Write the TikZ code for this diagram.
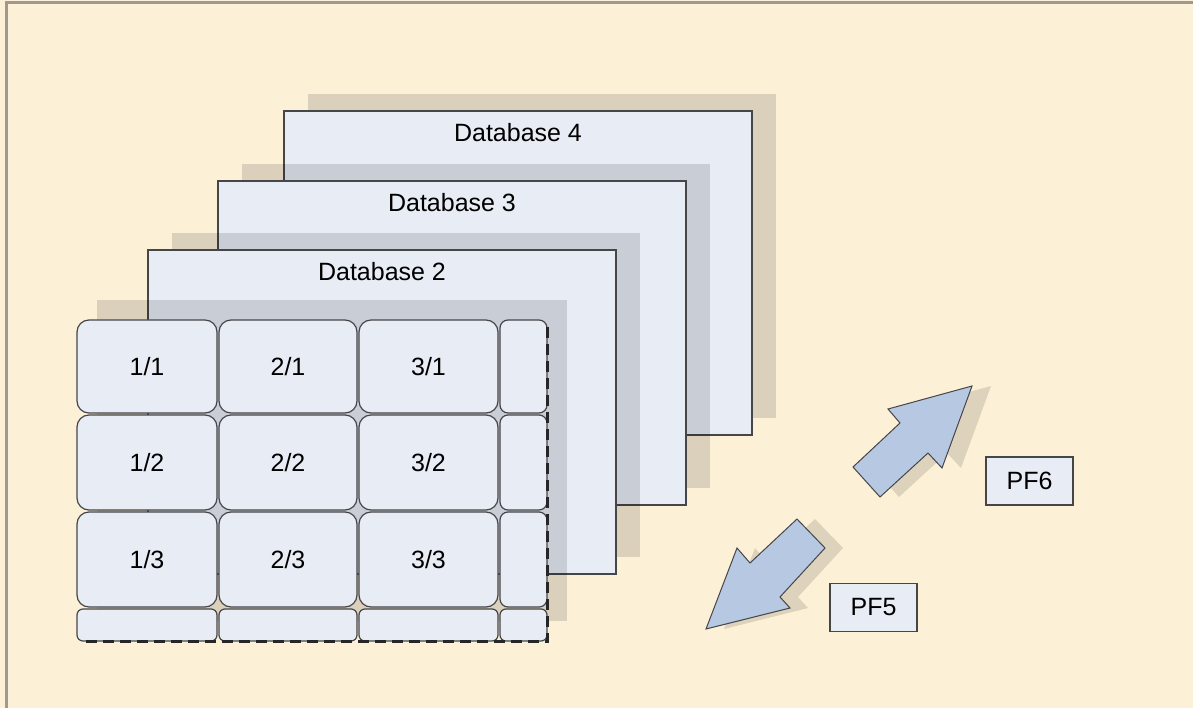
\documentclass[tikz,border=0pt]{standalone}
\usepackage{fontspec}
\setmainfont{Liberation Sans}
\usetikzlibrary{shadows}

\definecolor{paper}{RGB}{252,240,215}
\definecolor{frame}{RGB}{160,152,145}
\definecolor{sheetc}{RGB}{232,236,245}
\definecolor{linec}{RGB}{70,70,72}
\definecolor{arrowc}{RGB}{182,200,226}

\begin{document}
\begin{tikzpicture}[x=1pt, y=-1pt,
    font=\fontsize{25}{29}\selectfont,
    sheet/.style={draw=linec, line width=1.3pt, fill=sheetc, inner sep=0pt,
      minimum width=468, minimum height=324,
      drop shadow={shadow xshift=24pt, shadow yshift=17pt, fill=black, opacity=.13}},
    shadowbox/.style={fill=black, fill opacity=.13, inner sep=0pt},
    cell/.style={draw=linec, line width=1.2pt, fill=sheetc, rounded corners=12, inner sep=0pt},
    pfbox/.style={draw=linec, line width=1.2pt, fill=sheetc, inner sep=0pt,
      minimum width=87, minimum height=48},
    bigarrow/.style={draw=linec, line width=1pt, fill=arrowc},
    arrowshadow/.style={fill=black, fill opacity=.12}]

    \useasboundingbox (0,0) rectangle (1193,708);
    \fill[paper] (0,0) rectangle (1193,708);
    \draw[frame, line width=3pt] (1193,3) -- (6,3) -- (6,708);

    % stacked databases
    \node[sheet] (d4) at (518,273) {};
    \node (t4) at (518,133) {Database 4};
    \node[sheet] (d3) at (452,343) {};
    \node (t3) at (452,203) {Database 3};
    \node[sheet] (d2) at (382,412) {};
    \node (t2) at (382,272) {Database 2};

    % database 1 as a grid of cells
    \node[shadowbox, minimum width=470, minimum height=321] (gsh) at (332,460.5) {};

    \node[cell, minimum width=140, minimum height=93] (c11) at (147,366.5) {1/1};
    \node[cell, minimum width=138, minimum height=93] (c21) at (288,366.5) {2/1};
    \node[cell, minimum width=139, minimum height=93] (c31) at (428.5,366.5) {3/1};
    \node[cell, minimum width=47, minimum height=93, rounded corners=8] (c41) at (523.5,366.5) {};

    \node[cell, minimum width=140, minimum height=95] (c12) at (147,462.5) {1/2};
    \node[cell, minimum width=138, minimum height=95] (c22) at (288,462.5) {2/2};
    \node[cell, minimum width=139, minimum height=95] (c32) at (428.5,462.5) {3/2};
    \node[cell, minimum width=47, minimum height=95, rounded corners=8] (c42) at (523.5,462.5) {};

    \node[cell, minimum width=140, minimum height=95] (c13) at (147,559.5) {1/3};
    \node[cell, minimum width=138, minimum height=95] (c23) at (288,559.5) {2/3};
    \node[cell, minimum width=139, minimum height=95] (c33) at (428.5,559.5) {3/3};
    \node[cell, minimum width=47, minimum height=95, rounded corners=8] (c43) at (523.5,559.5) {};

    \node[cell, minimum width=140, minimum height=32, rounded corners=6] (c14) at (147,625) {};
    \node[cell, minimum width=138, minimum height=32, rounded corners=6] (c24) at (288,625) {};
    \node[cell, minimum width=139, minimum height=32, rounded corners=6] (c34) at (428.5,625) {};
    \node[cell, minimum width=47, minimum height=32, rounded corners=6] (c44) at (523.5,625) {};

    \draw[black!85, line width=3.6pt, dash pattern=on 11pt off 6pt]
      ([yshift=-8pt]c41.north east) -- (c44.south east) -- ([xshift=4pt]c14.south west);

    % paging arrows
    \fill[arrowshadow, shift={(19,0)}] (853,467) -- (900,423) -- (888,409) -- (972,386)
      -- (942,468) -- (928,453) -- (880,497) -- cycle;
    \draw[bigarrow] (853,467) -- (900,423) -- (888,409) -- (972,386)
      -- (942,468) -- (928,453) -- (880,497) -- cycle;
    \fill[arrowshadow, shift={(18,0)}] (797,519) -- (825,548) -- (780,597) -- (790,608)
      -- (706,629) -- (737,548) -- (750,563) -- cycle;
    \draw[bigarrow] (797,519) -- (825,548) -- (780,597) -- (790,608)
      -- (706,629) -- (737,548) -- (750,563) -- cycle;

    \node[pfbox] (pf6) at (1029.5,481) {PF6};
    \node[pfbox] (pf5) at (873.5,607.5) {PF5};

\end{tikzpicture}
\end{document}
